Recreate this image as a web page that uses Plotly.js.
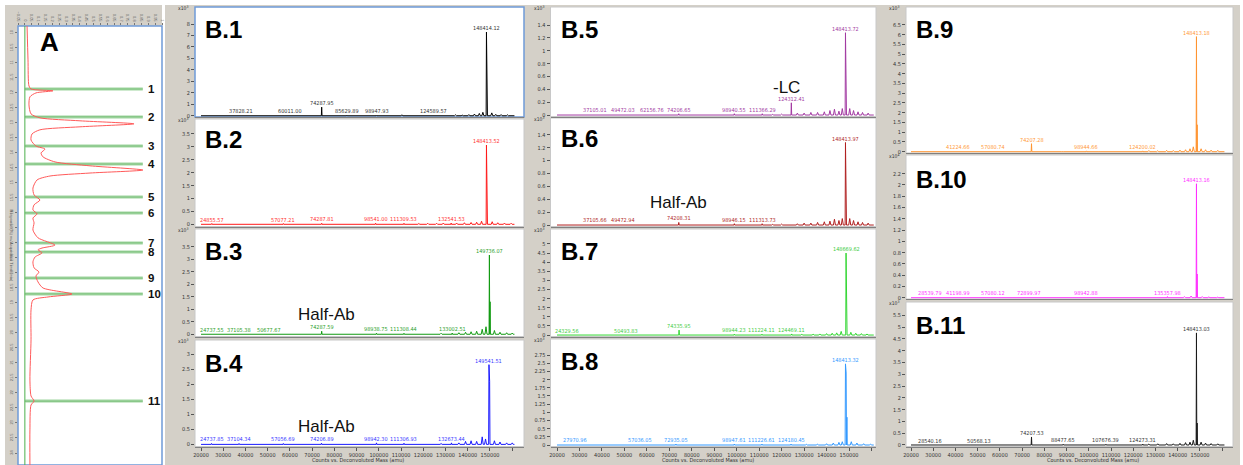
<!DOCTYPE html>
<html><head><meta charset="utf-8">
<script src="https://cdn.plot.ly/plotly-3.0.1.min.js"></script>
<style>html,body{margin:0;padding:0;background:#fff;}#chart{width:1243px;height:465px;}</style>
</head><body><div id="chart"></div>
<script>
// ---------- Panel A : chromatogram (time in min, response) ----------
const chromTime = [9.77, 10.9, 11.77, 11.87, 11.93, 12.0, 12.13, 12.4, 12.7, 12.83, 12.93, 13.03, 13.13, 13.23, 13.37, 13.57, 13.77, 13.87, 14.0, 14.13, 14.3, 14.43, 14.57, 14.67, 14.77, 14.9, 15.17, 15.4, 15.57, 15.73, 15.9, 16.03, 16.17, 16.33, 16.57, 16.83, 17.07, 17.17, 17.23, 17.33, 17.47, 17.63, 17.83, 17.97, 18.1, 18.3, 18.5, 18.7, 18.8, 18.9, 19.23, 20.23, 21.57, 22.1, 22.27, 22.4, 23.23, 24.4];
const chromResp = [0.016, 0.023, 0.030, 0.045, 0.205, 0.081, 0.037, 0.030, 0.045, 0.110, 0.402, 0.796, 0.402, 0.110, 0.052, 0.045, 0.081, 0.147, 0.118, 0.132, 0.22, 0.475, 0.861, 0.475, 0.183, 0.089, 0.059, 0.067, 0.110, 0.067, 0.059, 0.089, 0.059, 0.067, 0.059, 0.096, 0.22, 0.125, 0.096, 0.125, 0.074, 0.059, 0.067, 0.103, 0.081, 0.096, 0.132, 0.344, 0.169, 0.059, 0.045, 0.045, 0.037, 0.045, 0.067, 0.045, 0.037, 0.037];
const fracTime = [11.87, 12.8, 13.77, 14.37, 15.47, 16.0, 17.0, 17.3, 18.17, 18.7, 22.27];
const fracLabel = ['1','2','3','4','5','6','7','8','9','10','11'];
const fracLineEnd = 0.86;

// ---------- B panels : deconvoluted spectra (mass in amu, counts) ----------
const scanRange = [20000, 161000];
const massTickVals = [20000, 30000, 40000, 50000, 60000, 70000, 80000, 90000, 100000, 110000, 120000, 130000, 140000, 150000, 160000];
const massTickText = ['20000','30000','40000','50000','60000','70000','80000','90000','100000','110000','120000','130000','140000','150000',''];

const b1PeakMass = [37828.21, 60011.00, 74287.95, 85629.89, 98947.93, 124589.57, 148414.12];
const b1PeakHeight = [0.03, 0.03, 0.75, 0.06, 0.05, 0.06, 7.3];
const b1OtherMass = [110400, 131000, 134500, 137500, 140500, 143000, 145200, 146800, 148714, 150800, 152600, 155000, 157800];
const b1OtherHeight = [0.08, 0.05, 0.08, 0.06, 0.1, 0.15, 0.2, 0.3, 2.0, 0.25, 0.12, 0.1, 0.08];

const b2PeakMass = [24855.57, 57077.21, 74287.81, 98541.00, 111309.53, 132541.53, 148413.52];
const b2PeakHeight = [0.03, 0.03, 0.04, 0.04, 0.04, 0.05, 3.07];
const b2OtherMass = [118000, 122000, 126000, 129000, 135000, 138500, 141500, 144000, 146200, 148714, 151000, 153500, 156500, 159500];
const b2OtherHeight = [0.03, 0.04, 0.04, 0.05, 0.05, 0.06, 0.07, 0.08, 0.12, 1.45, 0.1, 0.06, 0.05, 0.04];

const b3PeakMass = [24737.55, 37105.38, 50677.67, 74287.59, 98938.75, 111308.44, 133002.51, 149736.07];
const b3PeakHeight = [0.03, 0.03, 0.03, 0.12, 0.04, 0.04, 0.05, 3.17];
const b3OtherMass = [128000, 136000, 139000, 141500, 144000, 146500, 148200, 150036, 152000, 154500, 157500, 160000];
const b3OtherHeight = [0.04, 0.06, 0.08, 0.1, 0.12, 0.2, 0.3, 1.3, 0.15, 0.08, 0.06, 0.05];

const b4PeakMass = [24737.85, 37104.34, 57056.69, 74206.89, 98942.30, 111306.93, 132673.44, 149541.51];
const b4PeakHeight = [0.03, 0.03, 0.03, 0.04, 0.05, 0.04, 0.05, 2.65];
const b4OtherMass = [128000, 136000, 139000, 141500, 144000, 146500, 148000, 149841, 152000, 154500, 157500, 160000];
const b4OtherHeight = [0.03, 0.05, 0.1, 0.12, 0.1, 0.25, 0.18, 2.1, 0.12, 0.08, 0.05, 0.05];

const b5PeakMass = [37105.01, 49472.03, 62156.76, 74206.65, 98940.55, 111366.29, 124312.41, 148413.72];
const b5PeakHeight = [0.01, 0.01, 0.01, 0.02, 0.02, 0.02, 0.19, 1.28];
const b5OtherMass = [116000, 120000, 127000, 130000, 133000, 136000, 139000, 141500, 143500, 145500, 147000, 148714, 150300, 152000, 154000, 156000, 158500];
const b5OtherHeight = [0.01, 0.015, 0.03, 0.03, 0.04, 0.04, 0.05, 0.07, 0.09, 0.06, 0.1, 0.5, 0.1, 0.07, 0.05, 0.04, 0.03];

const b6PeakMass = [37105.66, 49472.94, 74208.31, 98946.15, 111313.73, 148413.97];
const b6PeakHeight = [0.01, 0.01, 0.04, 0.02, 0.02, 1.28];
const b6OtherMass = [116000, 120000, 127000, 130000, 133000, 136000, 139000, 141500, 143500, 145500, 147000, 148714, 150300, 152000, 154000, 156000, 158500];
const b6OtherHeight = [0.01, 0.015, 0.02, 0.03, 0.03, 0.04, 0.05, 0.06, 0.09, 0.07, 0.1, 0.31, 0.1, 0.07, 0.05, 0.04, 0.03];

const b7PeakMass = [24329.56, 50493.83, 74335.95, 98944.23, 111224.11, 124469.11, 148669.62];
const b7PeakHeight = [0.03, 0.03, 0.27, 0.05, 0.05, 0.06, 4.5];
const b7OtherMass = [129000, 134000, 137000, 140000, 142500, 144500, 146500, 148970, 150800, 153000, 155500, 158000];
const b7OtherHeight = [0.04, 0.05, 0.06, 0.08, 0.1, 0.12, 0.2, 1.37, 0.15, 0.1, 0.08, 0.06];

const b8PeakMass = [27970.96, 57036.05, 72935.05, 98947.61, 111226.61, 124180.45, 148413.32];
const b8PeakHeight = [0.02, 0.02, 0.03, 0.03, 0.03, 0.03, 2.48];
const b8OtherMass = [131000, 136000, 140000, 143000, 145500, 147000, 148714, 149050, 151000, 153500, 156500, 159500];
const b8OtherHeight = [0.02, 0.03, 0.04, 0.06, 0.08, 0.1, 2.2, 0.85, 0.1, 0.06, 0.04, 0.03];

const b9PeakMass = [41224.66, 57080.74, 74207.28, 98944.66, 124200.02, 148413.18];
const b9PeakHeight = [0.03, 0.03, 0.41, 0.04, 0.04, 5.9];
const b9OtherMass = [88000, 105000, 127000, 131000, 135000, 138000, 141000, 143500, 145500, 147000, 148714, 150500, 152500, 155000, 158000];
const b9OtherHeight = [0.02, 0.02, 0.06, 0.05, 0.07, 0.06, 0.08, 0.1, 0.15, 0.25, 1.38, 0.15, 0.1, 0.08, 0.07];

const b10PeakMass = [28539.79, 41198.99, 57080.12, 72899.97, 98942.88, 135357.98, 148413.16];
const b10PeakHeight = [0.01, 0.01, 0.01, 0.01, 0.01, 0.02, 2.02];
const b10OtherMass = [143000, 146000, 148714, 151000, 154000, 158000];
const b10OtherHeight = [0.02, 0.03, 0.42, 0.02, 0.015, 0.01];

const b11PeakMass = [28540.16, 50568.13, 74207.53, 88477.65, 107676.39, 124273.31, 148413.03];
const b11PeakHeight = [0.02, 0.02, 0.34, 0.03, 0.03, 0.04, 4.75];
const b11OtherMass = [127000, 131000, 135000, 138000, 141000, 143500, 145500, 147000, 148714, 150500, 152500, 155000, 158000];
const b11OtherHeight = [0.04, 0.05, 0.06, 0.05, 0.07, 0.1, 0.12, 0.2, 0.93, 0.12, 0.08, 0.06, 0.05];

// ---------- layout helpers (positions & styles) ----------
const W = 1243, H = 465;
const px = x => x / W;
const py = y => 1 - y / H;
const SMALL = 'DejaVu Sans Condensed, Liberation Sans, sans-serif';
const SANS = 'Liberation Sans, Arial, sans-serif';
const GRAY = '#d4d0c8';
const SMALLSIZE = 5.5;

const cols = [
  {l: 195, r: 524, xr: [17300, 165300], title: 358},
  {l: 550.5, r: 876, xr: [17100, 162000], title: 708},
  {l: 906, r: 1233, xr: [17750, 164850], title: 1093}
];

const panels = [
  {name:'B.1', pm:b1PeakMass, ph:b1PeakHeight, om:b1OtherMass, oh:b1OtherHeight, col:0, top:7, bot:117, yr:[-0.11, 9.49], dt:1, tmax:8, exp:'3', line:'#000000', lab:'#333333', bottom:false, labY:29, border:'#6f9bd8'},
  {name:'B.2', pm:b2PeakMass, ph:b2PeakHeight, om:b2OtherMass, oh:b2OtherHeight, col:0, top:119, bot:226.5, yr:[-0.085, 4.08], dt:0.5, tmax:3.5, exp:'3', line:'#ff1a1a', lab:'#ff3030', bottom:false, labY:139},
  {name:'B.3', pm:b3PeakMass, ph:b3PeakHeight, om:b3OtherMass, oh:b3OtherHeight, col:0, top:229, bot:336.5, yr:[-0.09, 4.21], dt:0.5, tmax:3.5, exp:'3', line:'#129a12', lab:'#2aa02a', bottom:false, labY:251},
  {name:'B.4', pm:b4PeakMass, ph:b4PeakHeight, om:b4OtherMass, oh:b4OtherHeight, col:0, top:340, bot:446.5, yr:[-0.07, 3.47], dt:0.5, tmax:3, exp:'3', line:'#1a1aff', lab:'#3535ff', bottom:true, labY:363},
  {name:'B.5', pm:b5PeakMass, ph:b5PeakHeight, om:b5OtherMass, oh:b5OtherHeight, col:1, top:7, bot:116.5, yr:[-0.023, 1.68], dt:0.2, tmax:1.4, exp:'3', line:'#a23aa2', lab:'#a23aa2', bottom:false, labY:30},
  {name:'B.6', pm:b6PeakMass, ph:b6PeakHeight, om:b6OtherMass, oh:b6OtherHeight, col:1, top:118, bot:226.5, yr:[-0.023, 1.66], dt:0.2, tmax:1.4, exp:'3', line:'#b02020', lab:'#b02828', bottom:false, labY:138},
  {name:'B.7', pm:b7PeakMass, ph:b7PeakHeight, om:b7OtherMass, oh:b7OtherHeight, col:1, top:229, bot:336.5, yr:[-0.08, 5.82], dt:0.5, tmax:5, exp:'3', line:'#33d633', lab:'#3fcc3f', bottom:false, labY:251},
  {name:'B.8', pm:b8PeakMass, ph:b8PeakHeight, om:b8OtherMass, oh:b8OtherHeight, col:1, top:339, bot:446.5, yr:[-0.046, 3.24], dt:0.25, tmax:2.75, exp:'3', line:'#3399ff', lab:'#3399ff', bottom:true, labY:361},
  {name:'B.9', pm:b9PeakMass, ph:b9PeakHeight, om:b9OtherMass, oh:b9OtherHeight, col:2, top:7, bot:153, yr:[-0.067, 7.42], dt:0.5, tmax:6.5, exp:'3', line:'#ff9430', lab:'#ff9a3a', bottom:false, labY:30},
  {name:'B.10', pm:b10PeakMass, ph:b10PeakHeight, om:b10OtherMass, oh:b10OtherHeight, col:2, top:155, bot:299, yr:[-0.023, 2.53], dt:0.2, tmax:2.2, exp:'4', line:'#ff30ff', lab:'#ff30ff', bottom:false, labY:179},
  {name:'B.11', pm:b11PeakMass, ph:b11PeakHeight, om:b11OtherMass, oh:b11OtherHeight, col:2, top:302, bot:446.5, yr:[-0.064, 6.06], dt:0.5, tmax:5.5, exp:'3', line:'#1a1a1a', lab:'#333333', bottom:true, labY:325}
];

const notes = [
  {text:'Half-Ab', x:326, y:314},
  {text:'Half-Ab', x:326, y:426},
  {text:'-LC', x:786, y:87},
  {text:'Half-Ab', x:678, y:203}
];

function spectrum(pm, ph, om, oh) {
  const main = pm[pm.length - 1];
  const all = [];
  pm.forEach((m, i) => all.push([m, ph[i], 150]));
  om.forEach((m, i) => all.push([m, oh[i], Math.abs(m - main) < 1000 ? 150 : 450]));
  all.sort((a, b) => a[0] - b[0]);
  const x = [scanRange[0]], y = [0];
  all.forEach(([m, h, w]) => { x.push(m - w, m, m + w); y.push(0, h, 0); });
  x.push(scanRange[1]); y.push(0);
  return {x, y};
}

const traces = [];
const layout = {
  width: W, height: H,
  margin: {l:0, r:0, t:0, b:0},
  paper_bgcolor: '#ffffff',
  plot_bgcolor: 'rgba(0,0,0,0)',
  showlegend: false,
  shapes: [],
  annotations: []
};

// background frames
const grayRects = [[5, 5, 162, 465], [165, 5, 525, 465], [525, 5, 878, 465], [878, 5, 1240, 465]];
grayRects.forEach(r => layout.shapes.push({type:'rect', xref:'paper', yref:'paper', x0:px(r[0]), x1:px(r[2]), y0:py(r[3]), y1:py(r[1]), fillcolor:GRAY, line:{width:0}, layer:'below'}));
// white plot areas
layout.shapes.push({type:'rect', xref:'paper', yref:'paper', x0:px(18), x1:px(162), y0:py(465), y1:py(26), fillcolor:'#ffffff', line:{color:'#6f9bd8', width:1.5}, layer:'below'});
panels.forEach(p => {
  const c = cols[p.col];
  layout.shapes.push({type:'rect', xref:'paper', yref:'paper', x0:px(c.l), x1:px(c.r), y0:py(p.bot), y1:py(p.top), fillcolor:'#ffffff', line: p.border ? {color:p.border, width:1.5} : {color:'#c8c8c8', width:1}, layer:'below'});
});

// ---------- Panel A ----------
const aIdx = panels.length + 1;
const ax = 'x' + aIdx, ay = 'y' + aIdx;
traces.push({x:[0, 0], y:[9.77, 24.4], xaxis:ax, yaxis:ay, mode:'lines', line:{color:'#4caf4c', width:1}, hoverinfo:'skip'});
const gx = [], gy = [];
fracTime.forEach(t => { gx.push(0, fracLineEnd, null); gy.push(t, t, null); });
traces.push({x:gx, y:gy, xaxis:ax, yaxis:ay, mode:'lines', line:{color:'rgba(140,205,140,0.55)', width:3.5}, hoverinfo:'skip'});
traces.push({x:gx, y:gy, xaxis:ax, yaxis:ay, mode:'lines', line:{color:'#4aa84a', width:0.8}, hoverinfo:'skip'});
traces.push({x:chromResp, y:chromTime, xaxis:ax, yaxis:ay, mode:'lines', line:{color:'#ff5a5a', width:1, shape:'spline', smoothing:0.7}, hoverinfo:'skip'});
layout['xaxis' + aIdx] = {domain:[px(18), px(162)], range:[-0.05, 1.0], anchor:ay, side:'top', showgrid:false, zeroline:false, showline:false, ticks:'outside', ticklen:2, tickcolor:'#777', dtick:0.05, tick0:0, tickfont:{size:4, color:'#666', family:SANS}, tickangle:90};
layout['yaxis' + aIdx] = {domain:[py(465), py(26)], range:[24.4, 9.77], anchor:ax, showgrid:false, zeroline:false, showline:false, ticks:'outside', ticklen:2, tickcolor:'#777', dtick:0.5, tick0:10, tickfont:{size:4, color:'#666', family:SANS}, tickangle:-90};
fracTime.forEach((t, i) => layout.annotations.push({xref:ax, yref:ay, x:0.885, y:t, text:'<b>' + fracLabel[i] + '</b>', showarrow:false, xanchor:'left', yanchor:'middle', font:{family:SANS, size:11.5, color:'#111'}}));
layout.annotations.push({xref:'paper', yref:'paper', x:px(38), y:py(42), text:'<b>A</b>', showarrow:false, xanchor:'left', yanchor:'middle', font:{family:SANS, size:26, color:'#000'}});
layout.annotations.push({xref:'paper', yref:'paper', x:px(7), y:py(245), text:'Response (%) vs. Acquisition Time (min)', showarrow:false, textangle:90, font:{family:SANS, size:4, color:'#555'}});

// ---------- B panels ----------
panels.forEach((p, k) => {
  const n = k + 1;
  const xa = 'x' + n, ya = 'y' + n;
  const c = cols[p.col];
  const s = spectrum(p.pm, p.ph, p.om, p.oh);
  const yTicks = [];
  for (let v = 0; v <= p.tmax + 1e-9; v += p.dt) yTicks.push(Math.round(v * 100) / 100);
  traces.push({x:s.x, y:s.y, xaxis:xa, yaxis:ya, mode:'lines', line:{color:p.line, width:1}, hoverinfo:'skip'});
  layout['xaxis' + n] = {domain:[px(c.l), px(c.r)], range:c.xr, anchor:ya, showgrid:false, zeroline:false,
    showline:true, linecolor:'#808080', linewidth:1,
    ticks: p.bottom ? 'outside' : '', ticklen:3, tickcolor:'#555', tickangle:0,
    tickvals:massTickVals, ticktext:massTickText, showticklabels:p.bottom,
    tickfont:{family:SMALL, size:SMALLSIZE, color:'#333'}};
  layout['yaxis' + n] = {domain:[py(p.bot), py(p.top)], range:p.yr, anchor:xa, showgrid:false, zeroline:false,
    showline:false, ticks:'outside', ticklen:3, tickcolor:'#555', tickvals:yTicks,
    tickfont:{family:SMALL, size:SMALLSIZE, color:'#333'}};
  p.pm.forEach((m, i) => layout.annotations.push({xref:xa, yref:ya, x:m, y:p.ph[i], text:m.toFixed(2), showarrow:false,
    xanchor:'center', yanchor:'bottom', yshift:-1, font:{family:SMALL, size:SMALLSIZE, color:p.lab}}));
  layout.annotations.push({xref:'paper', yref:'paper', x:px(c.l + 8), y:py(p.labY), text:'<b>' + p.name + '</b>', showarrow:false,
    xanchor:'left', yanchor:'middle', font:{family:SANS, size:24, color:'#000'}});
  layout.annotations.push({xref:'paper', yref:'paper', x:px(c.l - 19), y:py(p.top + 1), text:'x10<sup>' + p.exp + '</sup>', showarrow:false,
    xanchor:'left', yanchor:'middle', font:{family:SMALL, size:5, color:'#333'}});
});
cols.forEach(c => layout.annotations.push({xref:'paper', yref:'paper', x:px(c.title), y:py(460), text:'Counts vs. Deconvoluted Mass (amu)', showarrow:false,
  xanchor:'center', yanchor:'middle', font:{family:SMALL, size:SMALLSIZE, color:'#333'}}));
notes.forEach(nt => layout.annotations.push({xref:'paper', yref:'paper', x:px(nt.x), y:py(nt.y), text:nt.text, showarrow:false,
  xanchor:'center', yanchor:'middle', font:{family:SANS, size:17, color:'#111'}}));

Plotly.newPlot('chart', traces, layout, {staticPlot:true, displayModeBar:false});
</script>
</body></html>
